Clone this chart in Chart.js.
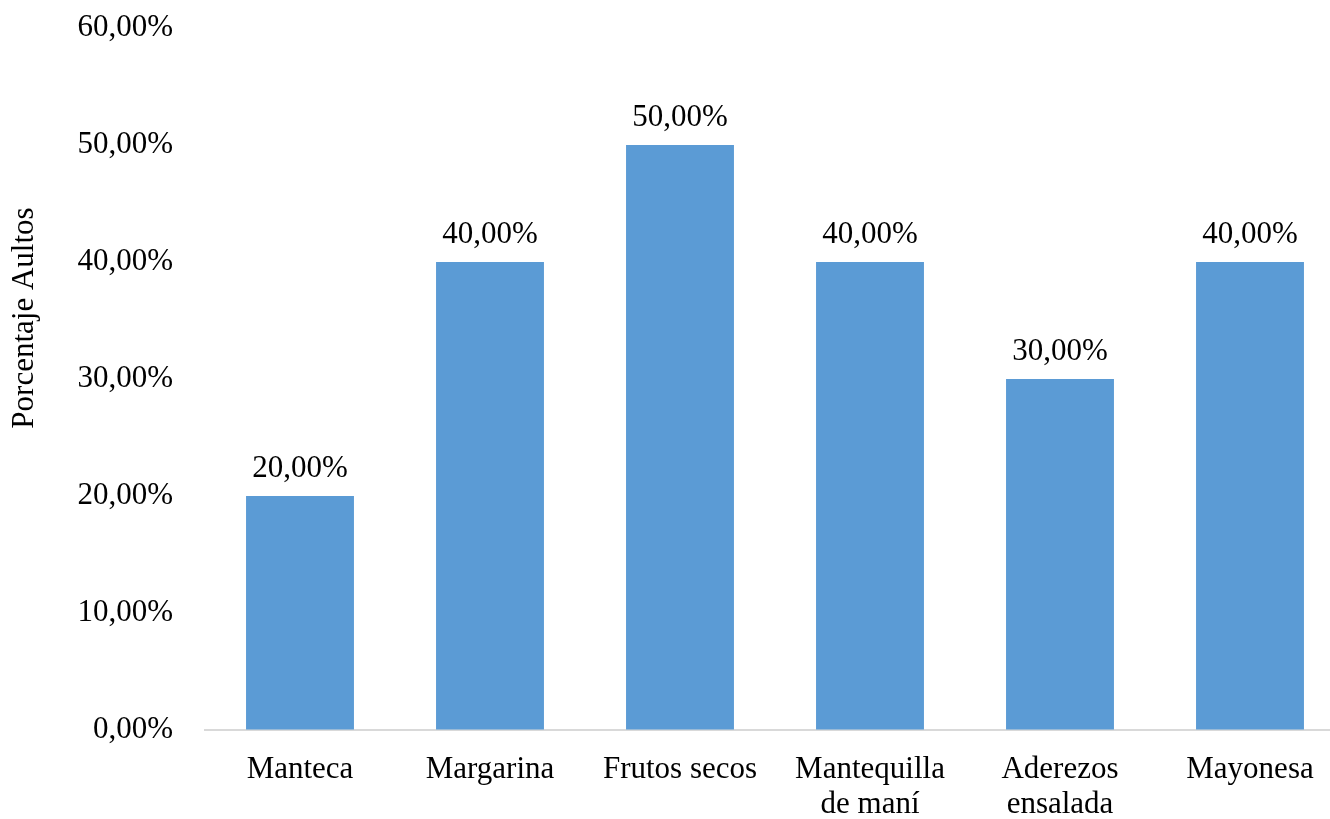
<!DOCTYPE html>
<html>
<head>
<meta charset="utf-8">
<script src="https://cdn.jsdelivr.net/npm/chart.js@4/dist/chart.umd.min.js"></script>
<style>
  html, body { margin: 0; padding: 0; background: #fff; overflow: hidden; }
  #wrap { width: 1345px; height: 819px; }
</style>
</head>
<body>
<div id="wrap"><canvas id="c" width="1345" height="819"></canvas></div>
<script>
// Consumption share by product (percent)
const categories = ["Manteca", "Margarina", "Frutos secos", ["Mantequilla", "de maní"], ["Aderezos", "ensalada"], "Mayonesa"];
const porcentajes = [20, 40, 50, 40, 30, 40];
const yTicks = [0, 10, 20, 30, 40, 50, 60];
const yTitle = 'Porcentaje Aultos';

const fmt = v => v.toFixed(2).replace('.', ',') + '%';
const FONT = "'Liberation Serif', 'Times New Roman', serif";
const SIZE = 31;

// Value labels above each bar
const valueLabels = {
  id: 'valueLabels',
  afterDatasetsDraw(chart) {
    const ctx = chart.ctx;
    const meta = chart.getDatasetMeta(0);
    ctx.save();
    ctx.font = SIZE + "px " + FONT;
    ctx.fillStyle = '#000';
    ctx.textAlign = 'center';
    ctx.textBaseline = 'alphabetic';
    meta.data.forEach((bar, i) => {
      ctx.fillText(fmt(porcentajes[i]), bar.x, bar.y - 19);
    });
    ctx.restore();
  }
};

// Rotated y-axis title in the left margin
const axisTitle = {
  id: 'axisTitle',
  afterDraw(chart) {
    const ctx = chart.ctx;
    ctx.save();
    ctx.font = SIZE + "px " + FONT;
    ctx.fillStyle = '#000';
    ctx.textAlign = 'center';
    ctx.textBaseline = 'middle';
    ctx.translate(25, 318);
    ctx.rotate(-Math.PI / 2);
    ctx.fillText(yTitle, 0, 0);
    ctx.restore();
  }
};

new Chart(document.getElementById('c'), {
  type: 'bar',
  data: {
    labels: categories,
    datasets: [{
      data: porcentajes,
      backgroundColor: '#5B9BD5',
      borderWidth: 0,
      categoryPercentage: 1,
      barPercentage: 0.568
    }]
  },
  options: {
    responsive: false,
    animation: false,
    layout: { autoPadding: false, padding: { left: 48, top: 28, right: 0, bottom: 0 } },
    plugins: { legend: { display: false }, tooltip: { enabled: false } },
    scales: {
      x: {
        grid: { display: false, drawTicks: false },
        border: { display: true, color: '#d9d9d9', width: 2 },
        ticks: {
          color: '#000',
          font: { family: FONT, size: SIZE, lineHeight: 1.13 },
          padding: 22,
          maxRotation: 0,
          autoSkip: false
        },
        afterFit(axis) { axis.height = 819 - 730; }
      },
      y: {
        min: yTicks[0],
        max: yTicks[yTicks.length - 1],
        // invisible tick marks keep the labels clear of the plot
        grid: { display: true, drawOnChartArea: false, drawTicks: true, tickLength: 30, color: 'rgba(0,0,0,0)' },
        border: { display: false },
        ticks: {
          color: '#000',
          font: { family: FONT, size: SIZE },
          stepSize: yTicks[1] - yTicks[0],
          padding: 2,
          callback: v => fmt(v)
        },
        afterFit(axis) { axis.width = 205 - 48; }
      }
    }
  },
  plugins: [valueLabels, axisTitle]
});
</script>
</body>
</html>
